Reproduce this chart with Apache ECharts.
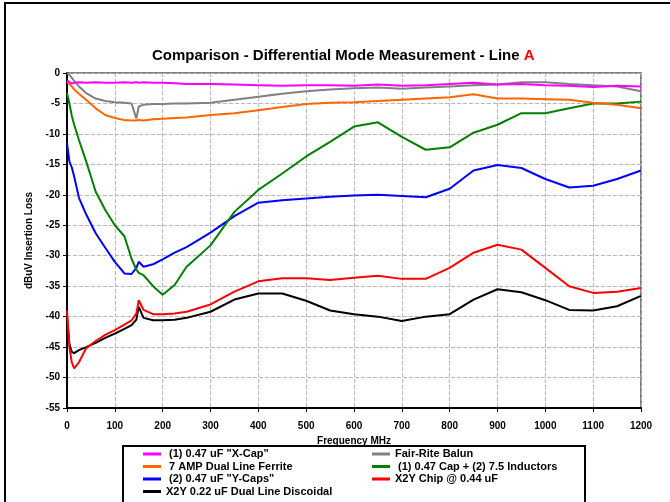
<!DOCTYPE html>
<html>
<head>
<meta charset="utf-8">
<script src="https://cdn.jsdelivr.net/npm/echarts@6/dist/echarts.min.js"></script>
<style>
html, body { margin: 0; padding: 0; background: #fff; }
#chart { width: 670px; height: 502px; }
</style>
</head>
<body>
<div id="chart"></div>
<script>
// frequency points (MHz) shared by all traces
const freqs = [0, 5, 10, 15, 25, 40, 60, 80, 100, 120, 135, 145, 150, 160, 180, 200, 225, 250, 300, 350,
  400, 450, 500, 550, 600, 650, 700, 750, 800, 850, 900, 950, 1000, 1050, 1100, 1150, 1200]

// insertion loss (dBuV) per filter
const xCap = [-1.2, -1.5, -1.7, -1.6, -1.5, -1.6, -1.5, -1.6, -1.6, -1.5, -1.6, -1.5, -1.6, -1.5, -1.6, -1.6, -1.7, -1.8, -1.8, -1.9,
  -2.0, -2.1, -2.0, -2.0, -2.1, -1.9, -2.1, -2.0, -1.8, -1.6, -1.9, -1.8, -2.0, -2.1, -2.3, -2.1, -2.2]
const fairRite = [0, -0.3, -0.8, -1.3, -2.2, -3.3, -4.2, -4.6, -4.8, -4.9, -5.0, -7.5, -5.5, -5.2, -5.1, -5.1, -5.0, -5.0, -4.9, -4.4,
  -3.9, -3.4, -3.0, -2.7, -2.5, -2.4, -2.6, -2.4, -2.2, -2.0, -1.9, -1.5, -1.5, -1.8, -2.0, -2.2, -3.0]
const ferrite = [-1.5, -1.8, -2.2, -2.7, -3.4, -4.4, -5.8, -6.9, -7.4, -7.7, -7.8, -7.8, -7.7, -7.8, -7.6, -7.5, -7.4, -7.3, -6.9, -6.6,
  -6.1, -5.6, -5.1, -4.9, -4.8, -4.6, -4.4, -4.2, -4.0, -3.5, -4.2, -4.2, -4.3, -4.4, -4.9, -5.2, -5.8]
const capInductors = [-3.3, -5.0, -7.0, -8.5, -11.0, -14.5, -19.5, -22.5, -25.0, -26.8, -30.5, -32.3, -32.8, -33.2, -35.0, -36.4, -34.8, -31.8, -28.3, -22.8,
  -19.2, -16.5, -13.7, -11.3, -8.8, -8.1, -10.5, -12.6, -12.2, -9.8, -8.5, -6.6, -6.6, -5.8, -5.0, -5.0, -4.7]
const yCaps = [-11.5, -14.5, -15.5, -17.0, -20.5, -23.2, -26.3, -28.7, -31.0, -32.9, -33.0, -32.0, -31.0, -31.8, -31.4, -30.6, -29.5, -28.6, -26.2, -23.5,
  -21.3, -20.9, -20.6, -20.3, -20.1, -20.0, -20.2, -20.4, -19.0, -16.0, -15.1, -15.6, -17.4, -18.8, -18.5, -17.4, -16.0]
const x2yChip = [-39.0, -45.0, -47.5, -48.5, -47.5, -45.2, -44.0, -43.0, -42.2, -41.3, -40.6, -39.5, -37.3, -38.9, -39.6, -39.6, -39.5, -39.2, -38.0, -35.9,
  -34.2, -33.7, -33.7, -34.0, -33.6, -33.3, -33.8, -33.8, -32.0, -29.5, -28.2, -29.0, -32.0, -35.0, -36.1, -35.9, -35.3]
const discoidal = [-40.0, -44.5, -45.8, -46.0, -45.5, -45.0, -44.3, -43.5, -42.8, -42.0, -41.4, -40.5, -38.4, -40.2, -40.6, -40.6, -40.5, -40.2, -39.2, -37.2,
  -36.2, -36.2, -37.4, -39.0, -39.6, -40.0, -40.7, -40.0, -39.6, -37.2, -35.5, -36.0, -37.3, -38.9, -39.0, -38.3, -36.6]

const names = [' (1) 0.47 uF "X-Cap"', 'Fair-Rite Balun', ' 7 AMP Dual Line Ferrite', ' (1) 0.47 Cap + (2) 7.5 Inductors',
  ' (2) 0.47 uF "Y-Caps"', 'X2Y Chip @ 0.44 uF', 'X2Y 0.22 uF Dual Line Discoidal']
const values = [xCap, fairRite, ferrite, capInductors, yCaps, x2yChip, discoidal]
const colors = ['#FF00FF', '#808080', '#FF6600', '#008000', '#0000FF', '#FF0000', '#000000']

const chart = echarts.init(document.getElementById('chart'))

const series = names.map((n, i) => ({
  name: n,
  type: 'line',
  symbol: 'none',
  z: 10 - i,
  lineStyle: { width: 2, color: colors[i] },
  itemStyle: { color: colors[i] },
  data: freqs.map((f, j) => [f, values[i][j]])
}))

const legendText = { fontFamily: 'Liberation Sans, Arial', fontWeight: 'bold', fontSize: 11, color: '#000', lineHeight: 12 }
const legendBase = {
  orient: 'vertical',
  top: 448,
  itemGap: 0.5,
  itemWidth: 18,
  itemHeight: 3,
  icon: 'rect',
  padding: 0,
  textStyle: legendText
}

chart.setOption({
  animation: false,
  backgroundColor: '#fff',
  title: {
    text: '{a|Comparison - Differential Mode Measurement - Line }{b|A}',
    left: 147,
    top: 43,
    textStyle: {
      rich: {
        a: { fontFamily: 'Liberation Sans, Arial', fontWeight: 'bold', fontSize: 15, color: '#000' },
        b: { fontFamily: 'Liberation Sans, Arial', fontWeight: 'bold', fontSize: 15, color: '#FF0000' }
      }
    }
  },
  legend: [
    Object.assign({}, legendBase, { left: 143, data: [names[0], names[2], names[4], names[6]] }),
    Object.assign({}, legendBase, { left: 372, data: [names[1], names[3], names[5]] })
  ],
  grid: {
    left: 67, right: 29, top: 73, bottom: 94,
    show: true,
    borderColor: '#808080',
    borderWidth: 2
  },
  xAxis: {
    type: 'value',
    min: 0, max: 1200, interval: 100,
    name: 'Frequency MHz',
    nameLocation: 'middle',
    nameGap: 24,
    nameTextStyle: { fontFamily: 'Liberation Sans, Arial', fontWeight: 'bold', fontSize: 10, color: '#000' },
    axisLine: { show: true, onZero: false, lineStyle: { color: '#000', width: 2 } },
    axisTick: { show: true, length: 4, lineStyle: { color: '#000' } },
    axisLabel: {
      margin: 13, fontFamily: 'Liberation Sans, Arial', fontWeight: 'bold', fontSize: 10, color: '#000',
      formatter: v => String(v)
    },
    splitLine: { show: true, lineStyle: { type: 'dashed', color: '#b8b8b8', width: 1 } }
  },
  yAxis: {
    type: 'value',
    min: -55, max: 0, interval: 5,
    name: 'dBuV Insertion Loss',
    nameLocation: 'middle',
    nameGap: 32,
    nameTextStyle: { fontFamily: 'Liberation Sans, Arial', fontWeight: 'bold', fontSize: 10, color: '#000' },
    axisLine: { show: true, onZero: false, lineStyle: { color: '#000', width: 2 } },
    axisTick: { show: true, length: 4, lineStyle: { color: '#000' } },
    axisLabel: { margin: 7, fontFamily: 'Liberation Sans, Arial', fontWeight: 'bold', fontSize: 10, color: '#000' },
    splitLine: { show: true, lineStyle: { type: 'dashed', color: '#b8b8b8', width: 1 } }
  },
  graphic: [
    { type: 'rect', shape: { x: 5, y: 3, width: 700, height: 540 }, style: { fill: 'none', stroke: '#000', lineWidth: 2 }, silent: true },
    { type: 'rect', shape: { x: 123, y: 446, width: 462, height: 80 }, style: { fill: 'none', stroke: '#000', lineWidth: 2 }, silent: true }
  ],
  series: series
})
</script>
</body>
</html>
